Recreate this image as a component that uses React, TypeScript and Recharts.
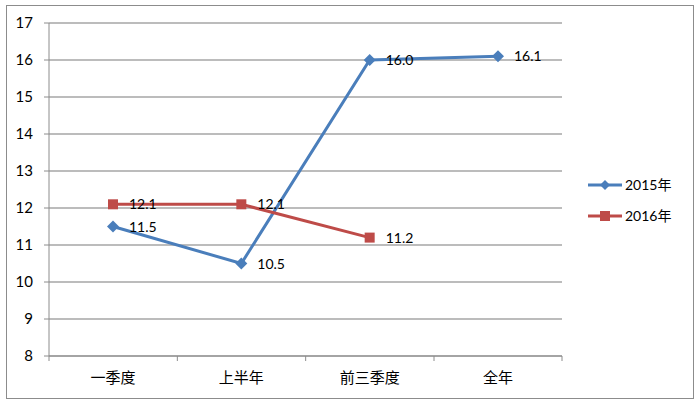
import React from "react";
import { LineChart, Line, XAxis, YAxis, CartesianGrid, LabelList } from "recharts";

const categories = ["一季度", "上半年", "前三季度", "全年"];
const series2015 = [11.5, 10.5, 16.0, 16.1];
const series2016: (number | null)[] = [12.1, 12.1, 11.2, null];
const yTicks = [8, 9, 10, 11, 12, 13, 14, 15, 16, 17];

const BLUE = "#4a7ebb";
const RED = "#be4b48";
const FONT = "Lato, 'Noto Sans CJK SC', sans-serif";

const data = categories.map((c, i) => ({
  name: c,
  y2015: series2015[i],
  y2016: series2016[i],
}));

const HALF = 64;

function CategoryTick(props: any) {
  const { x, y, payload, index } = props;
  const axisY = y - 8;
  return (
    <g>
      <line x1={x - HALF} y1={axisY} x2={x - HALF} y2={axisY + 5} stroke="#8c8c8c" />
      {index === categories.length - 1 && (
        <line x1={x + HALF} y1={axisY} x2={x + HALF} y2={axisY + 5} stroke="#8c8c8c" />
      )}
      <text x={x} y={axisY + 27} textAnchor="middle" fontSize={15} fill="#000" fontFamily={FONT}>
        {payload.value}
      </text>
    </g>
  );
}

function Diamond(props: any) {
  const { cx, cy } = props;
  if (cx == null || cy == null) return null;
  const r = 6;
  return <path d={`M${cx},${cy - r}L${cx + r},${cy}L${cx},${cy + r}L${cx - r},${cy}Z`} fill={BLUE} />;
}

function Square(props: any) {
  const { cx, cy } = props;
  if (cx == null || cy == null) return null;
  const r = 5;
  return <rect x={cx - r} y={cy - r} width={r * 2} height={r * 2} fill={RED} />;
}

function valueLabel(props: any) {
  const { x, y, value } = props;
  if (value == null) return null;
  return (
    <text x={x + 16} y={y + 5} fontSize={14} fill="#000" fontFamily={FONT}>
      {Number(value).toFixed(1)}
    </text>
  );
}

function LegendBox() {
  const items = [
    { label: "2015年", color: BLUE, shape: "diamond" },
    { label: "2016年", color: RED, shape: "square" },
  ];
  return (
    <svg width={110} height={60} style={{ position: "absolute", left: 586, top: 176 }}>
      {items.map((it, i) => {
        const cy = 9 + i * 31;
        return (
          <g key={it.label}>
            <line x1={2} y1={cy} x2={36} y2={cy} stroke={it.color} strokeWidth={3} />
            {it.shape === "diamond" ? (
              <path d={`M19,${cy - 5}L24,${cy}L19,${cy + 5}L14,${cy}Z`} fill={it.color} />
            ) : (
              <rect x={14} y={cy - 5} width={10} height={10} fill={it.color} />
            )}
            <text x={39} y={cy + 5} fontSize={14} fill="#000" fontFamily={FONT}>
              {it.label}
            </text>
          </g>
        );
      })}
    </svg>
  );
}

export default function App() {
  return (
    <div style={{ position: "absolute", left: 0, top: 0, width: 699, height: 405, background: "#fff" }}>
      <LineChart
        width={699}
        height={405}
        data={data}
        margin={{ top: 23, right: 137, bottom: 9, left: 0 }}
        style={{ fontFamily: FONT }}
      >
        <CartesianGrid vertical={false} stroke="#a6a6a6" strokeWidth={1.5} />
        <XAxis
          dataKey="name"
          height={40}
          padding={{ left: HALF, right: HALF }}
          axisLine={{ stroke: "#8c8c8c" }}
          tickLine={false}
          tick={<CategoryTick />}
          interval={0}
        />
        <YAxis
          width={49}
          domain={[8, 17]}
          ticks={yTicks}
          interval={0}
          axisLine={{ stroke: "#8c8c8c" }}
          tickLine={{ stroke: "#8c8c8c" }}
          tickSize={5}
          tickMargin={11}
          tick={{ fontSize: 15, fill: "#000", fontFamily: FONT }}
        />
        <Line
          dataKey="y2015"
          name="2015年"
          stroke={BLUE}
          strokeWidth={3}
          dot={<Diamond />}
          activeDot={false}
          isAnimationActive={false}
        >
          <LabelList dataKey="y2015" content={valueLabel} />
        </Line>
        <Line
          dataKey="y2016"
          name="2016年"
          stroke={RED}
          strokeWidth={3}
          dot={<Square />}
          activeDot={false}
          isAnimationActive={false}
        >
          <LabelList dataKey="y2016" content={valueLabel} />
        </Line>
      </LineChart>
      <LegendBox />
      <div
        style={{
          position: "absolute",
          left: 6,
          top: 5,
          width: 686,
          height: 392,
          border: "1px solid #8c8c8c",
          pointerEvents: "none",
        }}
      />
    </div>
  );
}
